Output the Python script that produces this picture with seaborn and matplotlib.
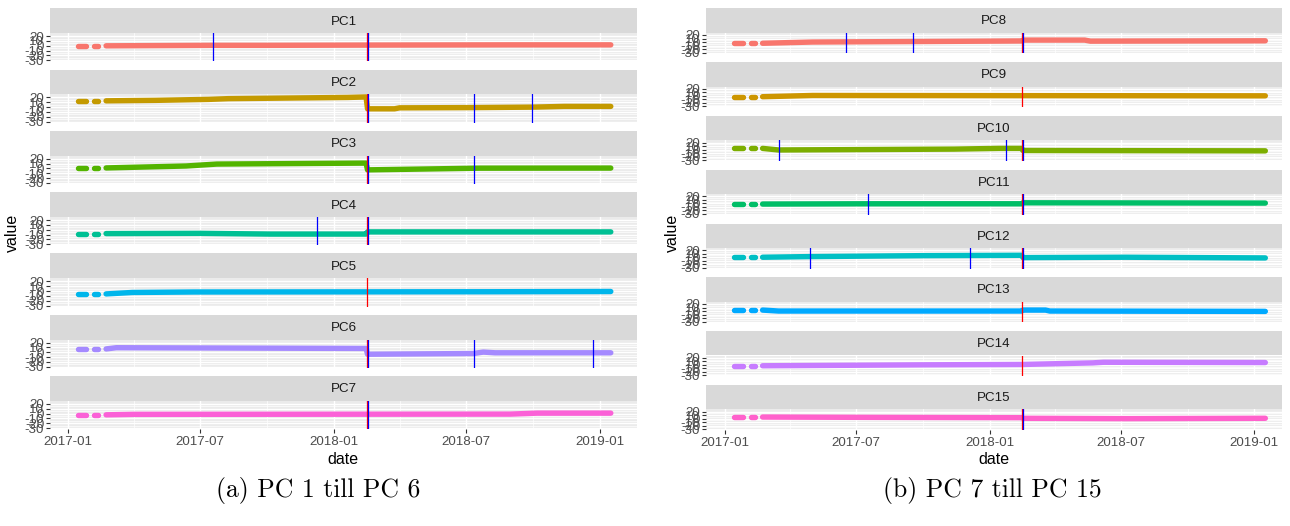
import matplotlib
matplotlib.use("Agg")
import matplotlib.pyplot as plt
import matplotlib.dates as mdates
import seaborn as sns
import pandas as pd

W, H = 1290, 526

# the first few observations come in short runs before the daily series starts
EARLY_RUNS = [("2017-01-14", "2017-01-26"), ("2017-02-06", "2017-02-11")]

# (date, value) knots
PC1 = [("2017-02-22", 0), ("2017-07-18", 1), ("2017-10-01", 1), ("2018-02-15", 1.5),
       ("2018-09-01", 2), ("2019-01-16", 2)]
PC2 = [("2017-02-22", 13), ("2017-05-01", 14), ("2017-07-13", 16), ("2017-08-09", 17.5),
       ("2018-01-20", 20), ("2018-02-14", 21), ("2018-02-16", -3.5), ("2018-03-25", -3.5),
       ("2018-04-01", -1.5), ("2018-07-11", -1), ("2018-10-01", 0), ("2018-11-13", 1.5),
       ("2019-01-16", 1.5)]
PC3 = [("2017-02-22", 1), ("2017-06-12", 5), ("2017-07-24", 9), ("2018-02-14", 11),
       ("2018-02-16", -3), ("2018-07-20", 0.5), ("2019-01-16", 0.7)]
PC4 = [("2017-02-22", -8), ("2017-07-01", -7.5), ("2017-10-06", -9), ("2018-02-14", -9),
       ("2018-02-16", -4.5), ("2019-01-16", -4.5)]
PC5 = [("2017-02-22", -6), ("2017-03-30", -3), ("2017-06-22", -2), ("2018-08-01", -1.5),
       ("2019-01-16", -1)]
PC6 = [("2017-02-22", 7), ("2017-03-08", 9.5), ("2018-02-14", 8), ("2018-02-16", -4),
       ("2018-07-11", -2.5), ("2018-07-25", 0.5), ("2018-08-10", -1), ("2019-01-16", -1)]
PC7 = [("2017-02-22", -2.5), ("2017-04-01", -1.5), ("2018-08-31", -1), ("2018-10-07", 1),
       ("2019-01-16", 1)]
PC8 = [("2017-02-22", -3.5), ("2017-05-02", 0), ("2017-11-13", 2), ("2018-02-14", 3),
       ("2018-02-16", 5.5), ("2018-05-12", 5.5), ("2018-05-20", 2.5), ("2019-01-16", 3.5)]
PC9 = [("2017-02-22", -2.5), ("2017-05-02", 1), ("2019-01-16", 0)]
PC10 = [("2017-02-22", 3.5), ("2017-03-16", -1), ("2017-11-13", 1.5), ("2018-01-14", 3.5),
        ("2018-02-14", 3.5), ("2018-02-16", -2.5), ("2019-01-16", -3.5)]
PC11 = [("2017-02-22", -1.8), ("2017-07-18", -1), ("2018-02-14", -1), ("2018-02-16", 1.8),
        ("2019-01-16", 1)]
PC12 = [("2017-02-22", 0), ("2017-04-28", 1.8), ("2017-10-03", 4.5), ("2018-02-14", 5.5),
        ("2018-02-16", -1), ("2018-07-08", 0), ("2019-01-16", -2)]
PC13 = [("2017-02-22", 2.7), ("2017-03-16", 0), ("2018-02-14", 0), ("2018-02-16", 2.7),
        ("2018-03-19", 2.7), ("2018-03-25", 0), ("2019-01-16", -1)]
PC14 = [("2017-02-22", -2.7), ("2017-10-03", 0), ("2018-02-14", 1), ("2018-05-23", 5.5),
        ("2018-06-07", 7.3), ("2019-01-16", 6.5)]
PC15 = [("2017-02-22", 4.5), ("2017-07-18", 3.6), ("2018-02-14", 2.7), ("2018-02-16", 1),
        ("2018-07-08", 0), ("2019-01-16", 1)]

# detected change points (blue) and the common reference date (red)
CHANGEPOINTS = {
    "PC1": ["2017-07-19", "2018-02-16"],
    "PC2": ["2018-02-16", "2018-07-12", "2018-09-30"],
    "PC3": ["2018-02-16", "2018-07-12"],
    "PC4": ["2017-12-08", "2018-02-16"],
    "PC5": [],
    "PC6": ["2018-02-16", "2018-07-12", "2018-12-23"],
    "PC7": ["2018-02-16"],
    "PC8": ["2017-06-17", "2017-09-17", "2018-02-16"],
    "PC9": [],
    "PC10": ["2017-03-17", "2018-01-23", "2018-02-16"],
    "PC11": ["2017-07-18", "2018-02-16"],
    "PC12": ["2017-04-28", "2017-12-05", "2018-02-16"],
    "PC13": [],
    "PC14": [],
    "PC15": ["2018-02-16"],
}
RED_LINE = "2018-02-15"

LEFT_PANELS = ["PC1", "PC2", "PC3", "PC4", "PC5", "PC6", "PC7"]
RIGHT_PANELS = ["PC8", "PC9", "PC10", "PC11", "PC12", "PC13", "PC14", "PC15"]
LEFT_COLORS = ["#F8766D", "#C49A00", "#53B400", "#00C094", "#00B6EB", "#A58AFF", "#FB61D7"]
RIGHT_COLORS = ["#F8766D", "#CD9600", "#7CAE00", "#00BE67", "#00BFC4", "#00A9FF",
                "#C77CFF", "#FF61CC"]

Y_TICKS = [-30, -20, -10, 0, 10, 20]
Y_MINOR = [-25, -15, -5, 5, 15]
X_TICKS = ["2017-01-01", "2017-07-01", "2018-01-01", "2018-07-01", "2019-01-01"]
X_LABELS = ["2017-01", "2017-07", "2018-01", "2018-07", "2019-01"]
X_MINOR = ["2017-04-01", "2017-10-01", "2018-04-01", "2018-10-01"]

SERIES = {"PC1": PC1, "PC2": PC2, "PC3": PC3, "PC4": PC4, "PC5": PC5, "PC6": PC6,
          "PC7": PC7, "PC8": PC8, "PC9": PC9, "PC10": PC10, "PC11": PC11, "PC12": PC12,
          "PC13": PC13, "PC14": PC14, "PC15": PC15}

plt.rcParams["font.family"] = ["Liberation Sans", "DejaVu Sans"]
plt.rcParams["axes.unicode_minus"] = False


def series_frame(knots):
    v0 = knots[0][1]
    rows = []
    for i, (a, b) in enumerate(EARLY_RUNS):
        rows.append((a, v0, i))
        rows.append((b, v0, i))
    for d, v in knots:
        rows.append((d, v, len(EARLY_RUNS)))
    df = pd.DataFrame(rows, columns=["date", "value", "run"])
    df["date"] = pd.to_datetime(df["date"])
    return df


def px_axes(fig, x0, y0, x1, y1):
    return fig.add_axes([x0 / W, 1 - y1 / H, (x1 - x0) / W, (y1 - y0) / H])


def draw_column(fig, names, colors, x0, x1, top, strip_h, plot_h, period, xlim):
    tnum = [mdates.date2num(pd.Timestamp(t)) for t in X_TICKS]
    mnum = [mdates.date2num(pd.Timestamp(t)) for t in X_MINOR]
    for i, (name, col) in enumerate(zip(names, colors)):
        st = top + i * period
        sax = px_axes(fig, x0, st, x1, st + strip_h)
        sax.set_facecolor("#D9D9D9")
        sax.set_xticks([])
        sax.set_yticks([])
        for s in sax.spines.values():
            s.set_visible(False)
        sax.text(0.5, 0.46, name, ha="center", va="center", transform=sax.transAxes,
                 fontsize=9.6, color="#1A1A1A")

        ax = px_axes(fig, x0, st + strip_h, x1, st + strip_h + plot_h)
        ax.set_facecolor("#EBEBEB")
        ax.set_axisbelow(True)
        df = series_frame(SERIES[name])
        sns.lineplot(data=df, x="date", y="value", units="run", estimator=None,
                     color=col, lw=3.9, solid_capstyle="round", ax=ax, legend=False)
        ax.axvline(pd.Timestamp(RED_LINE), color="red", lw=0.9)
        for d in CHANGEPOINTS[name]:
            ax.axvline(pd.Timestamp(d), color="blue", lw=0.9)

        ax.set_ylim(-32, 26.5)
        ax.set_xlim(pd.Timestamp(xlim[0]), pd.Timestamp(xlim[1]))
        ax.set_yticks(Y_TICKS)
        ax.set_yticks(Y_MINOR, minor=True)
        ax.set_xticks(tnum)
        ax.set_xticks(mnum, minor=True)
        ax.grid(which="major", color="white", lw=1.0)
        ax.grid(which="minor", color="white", lw=0.5)
        for s in ax.spines.values():
            s.set_visible(False)
        ax.tick_params(axis="y", which="major", length=2.6, width=0.8, color="#333333",
                       pad=1.6, labelsize=9.6, labelcolor="#4D4D4D")
        ax.tick_params(which="minor", length=0)
        ax.set_xlabel("")
        ax.set_ylabel("")
        if i == len(names) - 1:
            ax.set_xticklabels(X_LABELS)
            ax.tick_params(axis="x", which="major", length=2.6, width=0.8, color="#333333",
                           pad=2.5, labelsize=9.6, labelcolor="#4D4D4D")
        else:
            ax.tick_params(axis="x", which="both", length=0, labelbottom=False)


fig = plt.figure(figsize=(W / 100, H / 100), dpi=100)

draw_column(fig, LEFT_PANELS, LEFT_COLORS, 50, 637, 8.3, 24.7, 28.3, 61.3,
            ("2016-12-07", "2019-02-21"))
draw_column(fig, RIGHT_PANELS, RIGHT_COLORS, 706, 1282, 8.3, 24.4, 20.6, 53.8,
            ("2016-12-06", "2019-02-08"))

fig.text(12 / W, 1 - 233 / H, "value", rotation=90, ha="center", va="center", fontsize=11.5)
fig.text(672 / W, 1 - 233 / H, "value", rotation=90, ha="center", va="center", fontsize=11.5)
fig.text(343 / W, 1 - 460 / H, "date", ha="center", va="center", fontsize=11.5)
fig.text(994 / W, 1 - 460 / H, "date", ha="center", va="center", fontsize=11.5)

fig.text(318 / W, 1 - 491 / H, "(a) PC 1 till PC 6", ha="center", va="center",
         fontsize=18.5, family="cmr10")
fig.text(992 / W, 1 - 491 / H, "(b) PC 7 till PC 15", ha="center", va="center",
         fontsize=18.5, family="cmr10")

fig.savefig("out.png", dpi=100, facecolor="white")
